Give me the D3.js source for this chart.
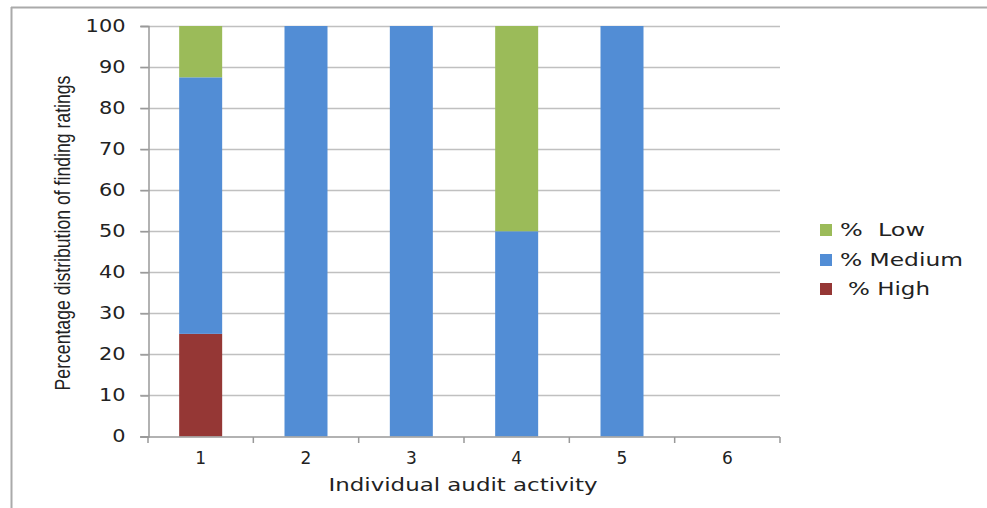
<!DOCTYPE html>
<meta charset="utf-8">
<head>
<style>
body{ margin: 0; background: #fff; }
text{ font-family: "DejaVu Sans", Verdana, sans-serif; fill: #222; }
</style>
<script src="https://cdnjs.cloudflare.com/ajax/libs/d3/7.8.5/d3.min.js"></script>
</head>
<body>
<div id="vis-container"></div>
</body>
<script>
var activities = ['1', '2', '3', '4', '5', '6']
var high   = [25, 0, 0, 0, 0, 0]
var medium = [62.5, 100, 100, 50, 100, 0]
var low    = [12.5, 0, 0, 50, 0, 0]
var yTicks = [0, 10, 20, 30, 40, 50, 60, 70, 80, 90, 100]

var seriesNames = ['% High', '% Medium', '% Low']
var colors = {'% High': '#953735', '% Medium': '#528dd5', '% Low': '#9bbb59'}

var rows = activities.map(function(a, i){
	return {activity: a, '% High': high[i], '% Medium': medium[i], '% Low': low[i]}
})

var W = 987, H = 508

var svg = d3.select('#vis-container').append('svg')
	.attr('width', W)
	.attr('height', H)

// outer frame (top and left edges only)
svg.append('line').attr('x1', 11).attr('x2', W).attr('y1', 7.5).attr('y2', 7.5)
	.attr('stroke', '#aaa').attr('stroke-width', 2)
svg.append('line').attr('x1', 11.5).attr('x2', 11.5).attr('y1', 7).attr('y2', H)
	.attr('stroke', '#aaa').attr('stroke-width', 2)

var x = d3.scaleBand().domain(activities).range([148, 780]).paddingInner(0).paddingOuter(0)
var y = d3.scaleLinear().domain([0, 100]).range([436.5, 26])

// gridlines
svg.append('g').selectAll('line')
	.data(yTicks.filter(function(t){ return t > 0 }))
	.enter().append('line')
	.attr('x1', 140).attr('x2', 780)
	.attr('y1', function(d){ return Math.round(y(d)) + 0.5 })
	.attr('y2', function(d){ return Math.round(y(d)) + 0.5 })
	.attr('stroke', '#c0c0c0').attr('stroke-width', 1.5)

// bars
var stack = d3.stack().keys(seriesNames)
var layers = stack(rows)
var barW = 43
svg.append('g').selectAll('g')
	.data(layers)
	.enter().append('g')
	.attr('fill', function(d){ return colors[d.key] })
	.selectAll('rect')
	.data(function(d){ return d })
	.enter().append('rect')
	.attr('x', function(d){ return x(d.data.activity) + x.bandwidth() / 2 - barW / 2 })
	.attr('width', barW)
	.attr('y', function(d){ return y(d[1]) })
	.attr('height', function(d){ return y(d[0]) - y(d[1]) })

// y axis
var yAxis = svg.append('g')
	.attr('transform', 'translate(148.5,0)')
	.call(d3.axisLeft(y).tickValues(yTicks).tickSize(8).tickPadding(15))
yAxis.select('.domain').attr('stroke', '#999').attr('stroke-width', 1.5)
yAxis.selectAll('.tick line').attr('stroke', '#999').attr('stroke-width', 1.5)
yAxis.selectAll('.tick text')
	.style('font-size', '17px')
	.style('font-family', '"DejaVu Sans", Verdana, sans-serif')
	.attr('fill', '#222')
	.attr('textLength', function(d){ return String(d).length * 13.3 })
	.attr('lengthAdjust', 'spacingAndGlyphs')

// x axis: ticks at band edges
var xAxis = svg.append('g').attr('transform', 'translate(0,' + (y(0) + 0.5) + ')')
xAxis.append('line').attr('x1', 140).attr('x2', 780).attr('stroke', '#999').attr('stroke-width', 1.5)
var edges = activities.map(function(a){ return x(a) }).concat([780])
xAxis.selectAll('.edge').data(edges).enter().append('line')
	.attr('x1', function(d){ return d }).attr('x2', function(d){ return d })
	.attr('y1', 0).attr('y2', 6)
	.attr('stroke', '#999').attr('stroke-width', 1.5)
xAxis.selectAll('.lbl').data(activities).enter().append('text')
	.attr('x', function(d){ return x(d) + x.bandwidth() / 2 })
	.attr('y', 27)
	.attr('text-anchor', 'middle')
	.style('font-size', '17px')
	.text(function(d){ return d })

// axis titles
svg.append('text')
	.attr('x', 463).attr('y', 491)
	.attr('text-anchor', 'middle')
	.attr('textLength', 269).attr('lengthAdjust', 'spacingAndGlyphs')
	.style('font-size', '18px')
	.text('Individual audit activity')

// y title: condensed look by squeezing the text to the reference length
var yTitle = svg.append('text')
	.attr('text-anchor', 'middle')
	.style('font-family', '"Liberation Sans", Arial, sans-serif')
	.style('font-size', '22px')
	.text('Percentage distribution of finding ratings')
var natural = yTitle.node().getComputedTextLength()
yTitle.attr('transform', 'translate(70,233) rotate(-90) scale(' + (315 / natural) + ',1)')

// legend
var legendItems = ['% Low', '% Medium', '% High']
var legendY = [230, 260, 289]
var legendText = {'% Low': {label: '%  Low', x: 20, w: 85}, '% Medium': {label: '% Medium', x: 20, w: 123}, '% High': {label: '% High', x: 28, w: 82}}
var lg = svg.append('g').selectAll('g')
	.data(legendItems)
	.enter().append('g')
	.attr('transform', function(d, i){ return 'translate(820,' + legendY[i] + ')' })
lg.append('rect').attr('x', 0).attr('y', -6).attr('width', 12).attr('height', 12)
	.attr('fill', function(d){ return colors[d] })
lg.append('text').attr('x', function(d){ return legendText[d].x }).attr('y', 6)
	.style('font-size', '17px')
	.attr('xml:space', 'preserve')
	.attr('textLength', function(d){ return legendText[d].w })
	.attr('lengthAdjust', 'spacingAndGlyphs')
	.text(function(d){ return legendText[d].label })
</script>
</html>
